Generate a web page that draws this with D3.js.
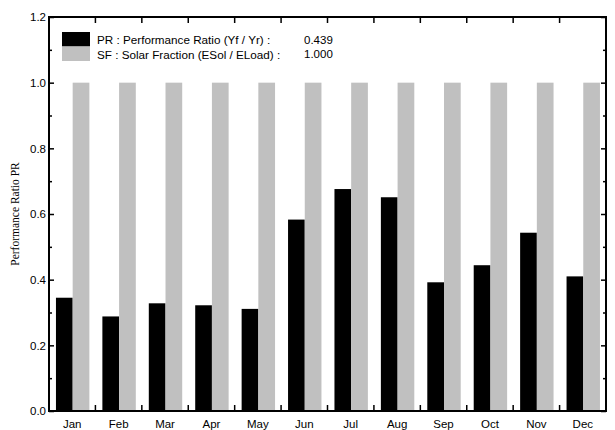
<!DOCTYPE html>
<html><head><meta charset="utf-8">
<script src="https://cdn.jsdelivr.net/npm/d3@7"></script>
<style>body{margin:0;background:#fff}svg{display:block}</style>
</head><body>
<script>
const months = ["Jan","Feb","Mar","Apr","May","Jun","Jul","Aug","Sep","Oct","Nov","Dec"];
const prValues = [0.345,0.288,0.328,0.322,0.311,0.583,0.676,0.651,0.392,0.444,0.543,0.410];
const sfValues = [1,1,1,1,1,1,1,1,1,1,1,1];
const yMajorTicks = [0,0.2,0.4,0.6,0.8,1.0,1.2];
const yMinorTicks = [0.1,0.3,0.5,0.7,0.9,1.1];
const legendItems = [
  {label:"PR : Performance Ratio (Yf / Yr) :", value:"0.439", color:"#000000"},
  {label:"SF : Solar Fraction (ESol / ELoad) :", value:"1.000", color:"#c0c0c0"}
];

const W=615,H=430;
const m={l:49,r:9,t:17,b:19};
const font="Arial, 'Liberation Sans', sans-serif";
const svg=d3.select("body").append("svg").attr("width",W).attr("height",H);
const x=d3.scaleBand().domain(months).range([m.l,W-m.r]).paddingInner(0).paddingOuter(0);
const y=d3.scaleLinear().domain([0,1.2]).range([H-m.b,m.t]);
const bw=x.bandwidth();
const off=bw*0.15, barW=bw*0.36;

const g=svg.append("g");
g.selectAll(".pr").data(months).enter().append("rect")
 .attr("x",d=>x(d)+off).attr("width",barW)
 .attr("y",(d,i)=>y(prValues[i])).attr("height",(d,i)=>y(0)-y(prValues[i]))
 .attr("fill","#000");
g.selectAll(".sf").data(months).enter().append("rect")
 .attr("x",d=>x(d)+off+barW).attr("width",barW)
 .attr("y",(d,i)=>y(sfValues[i])).attr("height",(d,i)=>y(0)-y(sfValues[i]))
 .attr("fill","#c0c0c0");

const left=svg.append("g").attr("transform",`translate(${m.l},0)`)
 .call(d3.axisLeft(y).tickValues(yMajorTicks).tickFormat(d3.format(".1f")).tickSizeInner(-5).tickSizeOuter(0).tickPadding(3));
left.select(".domain").remove();
left.selectAll("text").attr("font-family",font).attr("font-size","11.5px").attr("fill","#000").attr("x",-3);
left.selectAll("line").attr("stroke","#000").attr("stroke-width",1.5);
const leftMinor=svg.append("g").attr("transform",`translate(${m.l},0)`)
 .call(d3.axisLeft(y).tickValues(yMinorTicks).tickFormat("").tickSizeInner(-3).tickSizeOuter(0));
leftMinor.select(".domain").remove();
leftMinor.selectAll("line").attr("stroke","#000").attr("stroke-width",1.5);

const right=svg.append("g").attr("transform",`translate(${W-m.r},0)`)
 .call(d3.axisRight(y).tickValues(yMajorTicks).tickFormat("").tickSizeInner(-5).tickSizeOuter(0));
right.select(".domain").remove();
right.selectAll("line").attr("stroke","#000").attr("stroke-width",1.5);
const rightMinor=svg.append("g").attr("transform",`translate(${W-m.r},0)`)
 .call(d3.axisRight(y).tickValues(yMinorTicks).tickFormat("").tickSizeInner(-3).tickSizeOuter(0));
rightMinor.select(".domain").remove();
rightMinor.selectAll("line").attr("stroke","#000").attr("stroke-width",1.5);

const bottom=svg.append("g").attr("transform",`translate(0,${H-m.b})`)
 .call(d3.axisBottom(x).tickSize(0).tickPadding(8.5));
bottom.select(".domain").remove();
bottom.selectAll("text").attr("font-family",font).attr("font-size","11.5px").attr("fill","#000");
const bounds=months.slice(1).map(d=>x(d));
svg.append("g").selectAll("line").data(bounds).enter().append("line")
 .attr("x1",d=>d).attr("x2",d=>d).attr("y1",y(0)).attr("y2",y(0)-6)
 .attr("stroke","#000").attr("stroke-width",1.5);
svg.append("g").selectAll("line").data(bounds).enter().append("line")
 .attr("x1",d=>d).attr("x2",d=>d).attr("y1",y(1.2)).attr("y2",y(1.2)+6)
 .attr("stroke","#000").attr("stroke-width",1.5);

svg.append("rect").attr("x",m.l).attr("y",m.t).attr("width",W-m.r-m.l).attr("height",H-m.b-m.t)
 .attr("fill","none").attr("stroke","#000").attr("stroke-width",2);

svg.append("text").attr("transform",`translate(15,${(m.t+H-m.b)/2}) rotate(-90)`)
 .attr("text-anchor","middle").attr("dominant-baseline","central")
 .attr("font-family","'Liberation Serif','Times New Roman',serif").attr("font-size","11.5px")
 .text("Performance Ratio PR");

const lg=svg.append("g");
legendItems.forEach((it,i)=>{
  const yy=32+i*14.5;
  lg.append("rect").attr("x",62).attr("y",yy).attr("width",28).attr("height",14.5).attr("fill",it.color);
  lg.append("text").attr("x",97).attr("y",yy+7.5).attr("dominant-baseline","central")
    .attr("font-family",font).attr("font-size","11.7px").text(it.label);
  lg.append("text").attr("x",304).attr("y",yy+7.5).attr("dominant-baseline","central")
    .attr("font-family",font).attr("font-size","11.5px").text(it.value);
});
</script>
</body></html>
